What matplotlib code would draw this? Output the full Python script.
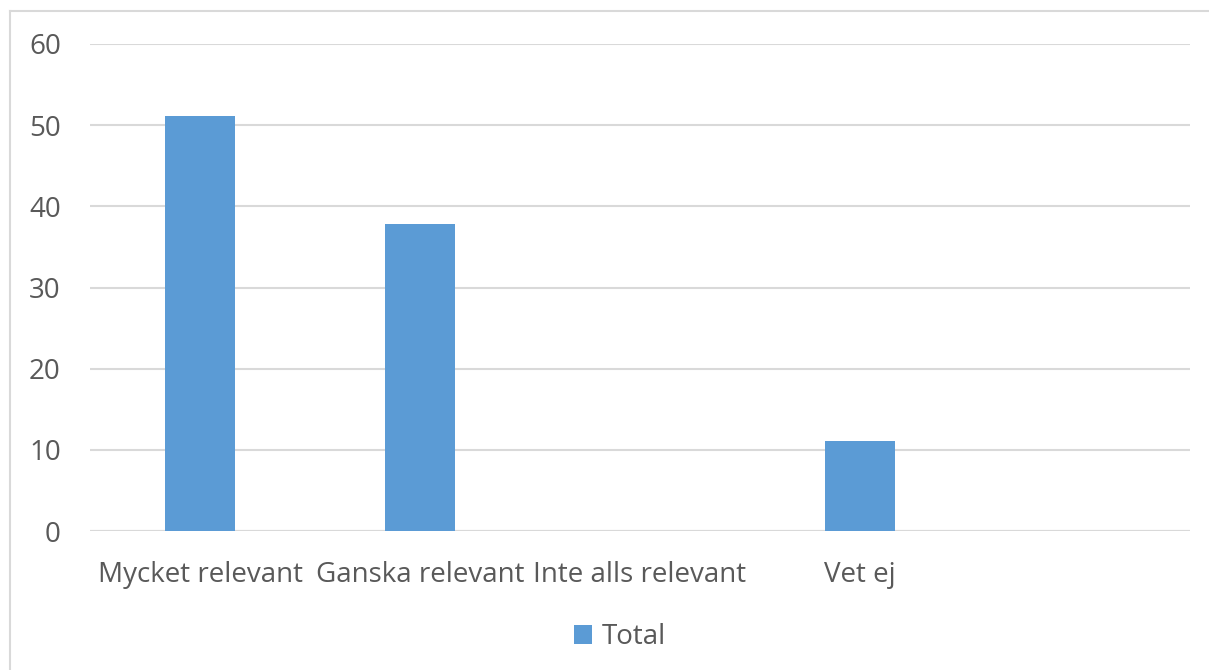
import matplotlib
matplotlib.use("Agg")
import matplotlib.pyplot as plt
from matplotlib.lines import Line2D

categories = ["Mycket relevant", "Ganska relevant", "Inte alls relevant", "Vet ej", ""]
values = [51.1, 37.8, 0, 11.1, 0]
series_name = "Total"
yticks = [0, 10, 20, 30, 40, 50, 60]

bar_color = "#5B9BD5"
text_color = "#595959"
grid_color = "#D9D9D9"

plt.rcParams['font.family'] = ['Open Sans', 'DejaVu Sans']

fig = plt.figure(figsize=(12.09, 6.70), dpi=100)
W, H = 1209, 670
ax = fig.add_axes([90 / W, 1 - 531 / H, 1100 / W, (531 - 44) / H])

x = list(range(len(categories)))
ax.bar(x, values, width=0.314, color=bar_color, zorder=3, label=series_name)
ax.set_xlim(-0.5, len(categories) - 0.5)
ax.set_ylim(0, 60)
ax.set_yticks(yticks)
ax.set_xticks(x)
ax.set_xticklabels(categories)
ax.tick_params(axis='both', length=0, colors=text_color, labelsize=20)
ax.tick_params(axis='y', pad=21)
ax.tick_params(axis='x', pad=21.5)
ax.yaxis.grid(True, color=grid_color, linewidth=1.5, zorder=0)
for s in ax.spines.values():
    s.set_visible(False)
ax.axhline(0, color=grid_color, linewidth=1.5, zorder=2)

# chart frame (top and left edges visible)
fig.add_artist(Line2D([9.5 / W, 9.5 / W], [0, 1 - 11 / H], color=grid_color, linewidth=1.5, transform=fig.transFigure))
fig.add_artist(Line2D([9.5 / W, 1], [1 - 11 / H, 1 - 11 / H], color=grid_color, linewidth=1.5, transform=fig.transFigure))

leg = fig.legend(loc='center', bbox_to_anchor=(620 / W, 1 - 637 / H), frameon=False,
                 fontsize=20, handlelength=0.65, handleheight=0.65, handletextpad=0.35,
                 labelcolor=text_color)

fig.savefig("out.png", dpi=100, facecolor="white")
